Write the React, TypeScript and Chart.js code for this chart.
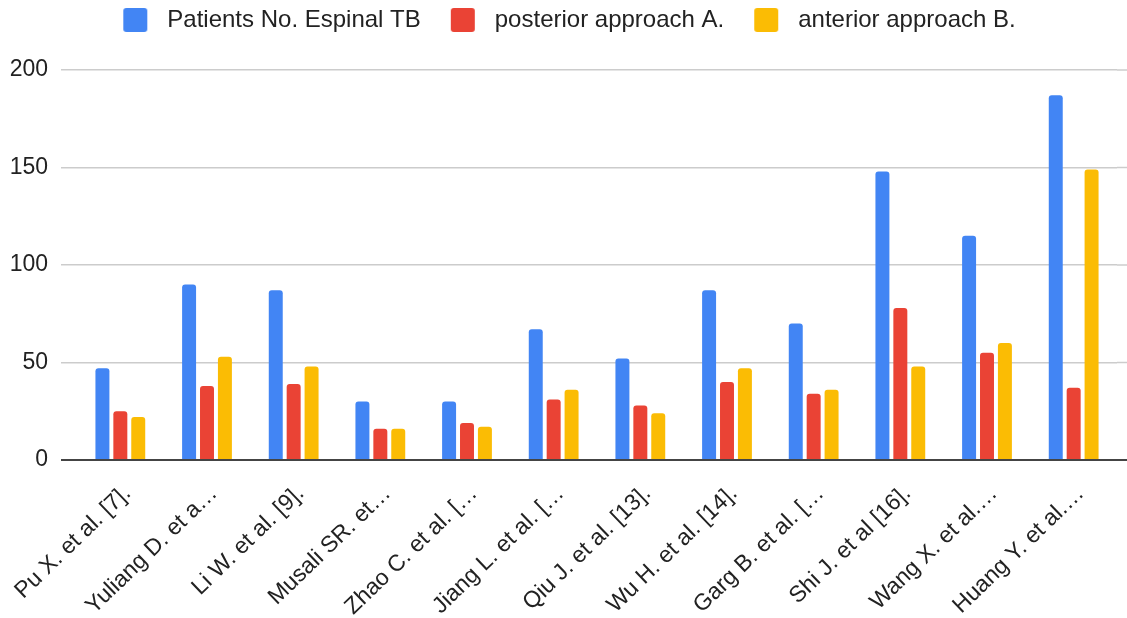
import React, { useEffect, useRef } from "react";
import { Chart, registerables } from "chart.js";

Chart.register(...registerables);

const categories = [
  "Pu X. et al. [7].",
  "Yuliang D. et a…",
  "Li W. et al. [9].",
  "Musali SR. et…",
  "Zhao C. et al. […",
  "Jiang L. et al. […",
  "Qiu J. et al. [13].",
  "Wu H. et al. [14].",
  "Garg B. et al. […",
  "Shi J. et al [16].",
  "Wang X. et al.…",
  "Huang Y. et al.…",
];

const seriesNames = ["Patients No. Espinal TB", "posterior approach A.", "anterior approach B."];
const patientsTotal = [47, 90, 87, 30, 30, 67, 52, 87, 70, 148, 115, 187];
const posteriorA = [25, 38, 39, 16, 19, 31, 28, 40, 34, 78, 55, 37];
const anteriorB = [22, 53, 48, 16, 17, 36, 24, 47, 36, 48, 60, 149];
const seriesColors = ["#4285F4", "#EA4335", "#FBBC04"];
const yTicks = [0, 50, 100, 150, 200];

const FONT = '"Liberation Sans", Arial, Helvetica, sans-serif';

function makeMarker(color: string): HTMLCanvasElement {
  const c = document.createElement("canvas");
  c.width = 54;
  c.height = 24;
  const g = c.getContext("2d")!;
  g.fillStyle = color;
  const x = 22, y = 0, w = 24, h = 24, r = 3;
  g.beginPath();
  g.moveTo(x + r, y);
  g.lineTo(x + w - r, y);
  g.quadraticCurveTo(x + w, y, x + w, y + r);
  g.lineTo(x + w, y + h - r);
  g.quadraticCurveTo(x + w, y + h, x + w - r, y + h);
  g.lineTo(x + r, y + h);
  g.quadraticCurveTo(x, y + h, x, y + h - r);
  g.lineTo(x, y + r);
  g.quadraticCurveTo(x, y, x + r, y);
  g.closePath();
  g.fill();
  return c;
}

const legendSpacer = {
  id: "legendSpacer",
  afterInit(chart: any) {
    const lg = chart.legend;
    if (lg) {
      const f = lg.fit.bind(lg);
      lg.fit = () => {
        f();
        lg.height = 70;
      };
    }
  },
};

// extends the horizontal grid lines to the right edge of the canvas
const gridExtend = {
  id: "gridExtend",
  beforeDatasetsDraw(chart: any) {
    const { ctx, chartArea, scales } = chart;
    const y = scales.y;
    ctx.save();
    y.ticks.forEach((t: any) => {
      const py = y.getPixelForValue(t.value);
      const zero = t.value === 0;
      ctx.strokeStyle = zero ? "#444" : "#cccccc";
      ctx.lineWidth = zero ? 2 : 1.5;
      ctx.beginPath();
      ctx.moveTo(chartArea.right, py);
      ctx.lineTo(chart.width, py);
      ctx.stroke();
    });
    ctx.restore();
  },
};

export default function App() {
  const ref = useRef<HTMLCanvasElement>(null);

  useEffect(() => {
    document.body.style.margin = "0";
    const markers = seriesColors.map(makeMarker);
    const values = [patientsTotal, posteriorA, anteriorB];
    const chart = new Chart(ref.current!, {
      type: "bar",
      data: {
        labels: categories,
        datasets: values.map((d, i) => ({
          label: seriesNames[i],
          data: d,
          backgroundColor: seriesColors[i],
          borderRadius: 3,
          categoryPercentage: 0.62,
          barPercentage: 0.78,
        })),
      },
      plugins: [legendSpacer, gridExtend],
      options: {
        animation: false,
        responsive: false,
        maintainAspectRatio: false,
        layout: { padding: { top: 0, left: 0, right: 10, bottom: 0 } },
        plugins: {
          tooltip: { enabled: false },
          legend: {
            position: "top",
            labels: {
              usePointStyle: true,
              pointStyleWidth: 54,
              boxHeight: 24,
              padding: 8,
              color: "#222",
              font: { family: FONT, size: 24 },
              generateLabels: (ch: any) =>
                ch.data.datasets.map((ds: any, i: number) => ({
                  text: ds.label,
                  fillStyle: ds.backgroundColor,
                  strokeStyle: ds.backgroundColor,
                  lineWidth: 0,
                  hidden: false,
                  datasetIndex: i,
                  pointStyle: markers[i],
                  fontColor: "#222",
                })),
            },
          },
        },
        scales: {
          x: {
            grid: { display: false, drawTicks: false },
            border: { display: false },
            ticks: {
              color: "#222",
              font: { family: FONT, size: 23 },
              minRotation: 44,
              maxRotation: 44,
              autoSkip: false,
              padding: 20,
              labelOffset: 7,
            },
            afterFit: (s: any) => {
              s.height = 158;
              s.paddingLeft = 0;
              s.paddingRight = 0;
            },
          },
          y: {
            min: 0,
            max: 200,
            afterBuildTicks: (s: any) => {
              s.ticks = yTicks.map((v) => ({ value: v }));
            },
            border: { display: false },
            grid: {
              color: (c: any) => (c.tick && c.tick.value === 0 ? "#444" : "#cccccc"),
              lineWidth: (c: any) => (c.tick && c.tick.value === 0 ? 2 : 1.5),
              tickLength: 16,
              tickColor: (c: any) => (c.tick && c.tick.value === 0 ? "#444" : "#cccccc"),
              tickWidth: (c: any) => (c.tick && c.tick.value === 0 ? 2 : 1.5),
            },
            ticks: {
              color: "#222",
              font: { family: FONT, size: 23 },
              padding: 13,
            },
            afterFit: (s: any) => {
              s.width = 77;
              s.paddingTop = 0;
              s.paddingBottom = 0;
            },
          },
        },
      },
    } as any);
    return () => chart.destroy();
  }, []);

  return (
    <div style={{ position: "absolute", left: 0, top: 0, width: 1127, height: 618 }}>
      <canvas ref={ref} width={1127} height={618} style={{ width: 1127, height: 618 }} />
    </div>
  );
}
